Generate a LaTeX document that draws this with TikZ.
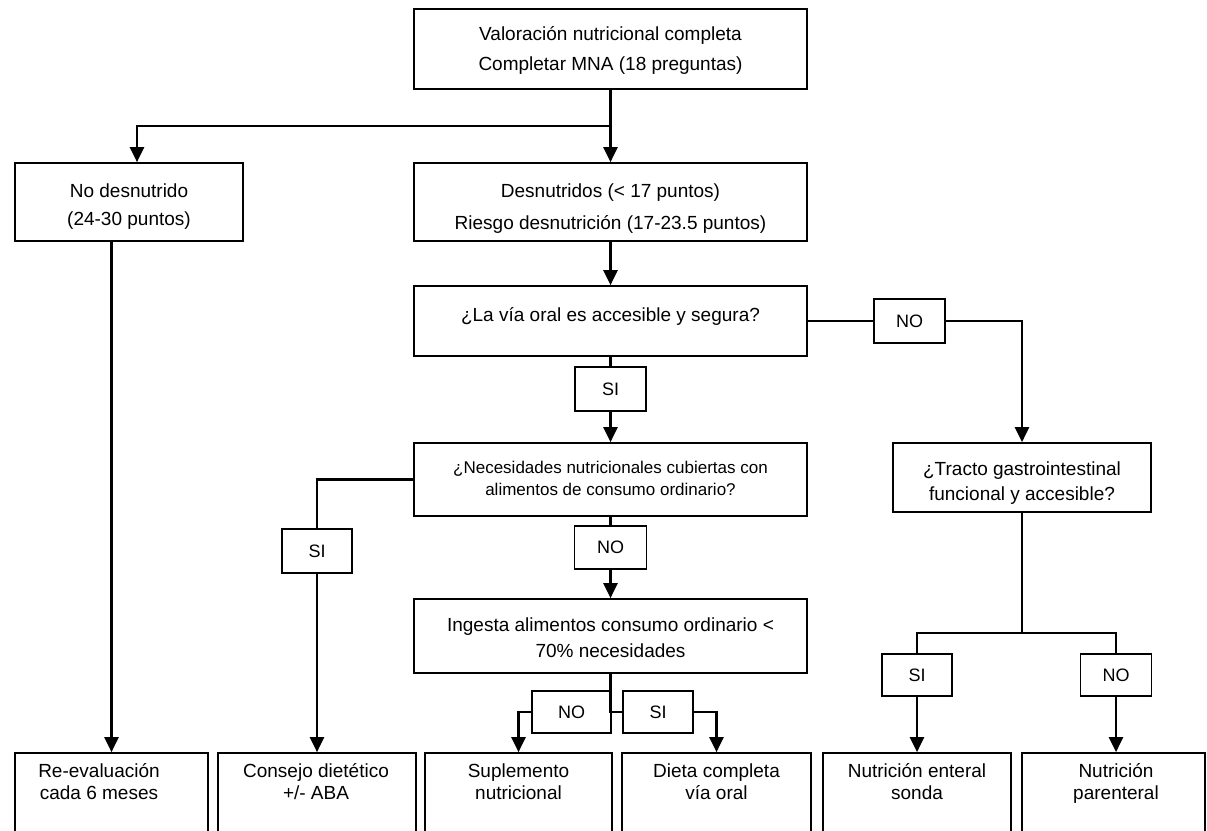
\documentclass[tikz,border=0pt]{standalone}
\usepackage{fontspec}
\setmainfont{Liberation Sans}
\usetikzlibrary{arrows.meta,calc}
\begin{document}
\begin{tikzpicture}[x=1pt,y=-1pt,
  box/.style 2 args={draw=black, line width=1.7pt, inner sep=0pt, fill=white,
    minimum width=#1, minimum height=#2},
  lbl/.style 2 args={draw=black, line width=1.7pt, inner sep=0pt, fill=white,
    minimum width=#1, minimum height=#2, font=\fontsize{18}{20}\selectfont},
  txt/.style={align=center, anchor=base, inner sep=0pt,
    font=\fontsize{19}{#1}\selectfont},
  txt/.default=22,
  smalltxt/.style={align=center, anchor=base, inner sep=0pt,
    font=\fontsize{17}{#1}\selectfont},
  smalltxt/.default=22,
  link/.style={line width=2.4pt},
  arr/.style={link, -{Triangle[width=14pt,length=15pt]}},
]
\useasboundingbox (0,0) rectangle (1207,830);
\clip (0,0) rectangle (1207,830);

% main boxes (text nodes are placed on the baseline of their last line)
\node[box={393pt}{80pt}] (val) at (610.5,49) {};
\node[txt=29.3] (val-t) at (610.5,70) {Valoración nutricional completa\\Completar MNA (18 preguntas)};

\node[box={228pt}{78pt}] (nodesn) at (129,202) {};
\node[txt=28] (nodesn-t) at (129,225) {No desnutrido\\(24-30 puntos)};

\node[box={393pt}{78pt}] (desn) at (610.5,202) {};
\node[txt=32] (desn-t) at (610.5,229) {Desnutridos (< 17 puntos)\\Riesgo desnutrición (17-23.5 puntos)};

\node[box={393pt}{70pt}] (oral) at (610.5,321) {};
\node[txt] (oral-t) at (610.5,321) {¿La vía oral es accesible y segura?};

\node[box={393pt}{73pt}] (nec) at (610.5,479.5) {};
\node[smalltxt=22] (nec-t) at (610.5,495) {¿Necesidades nutricionales cubiertas con\\alimentos de consumo ordinario?};

\node[box={393pt}{74pt}] (ingesta) at (610.5,636) {};
\node[txt=26] (ingesta-t) at (610.5,657.3) {Ingesta alimentos consumo ordinario <\\70\% necesidades};

\node[box={258pt}{69pt}] (tracto) at (1022,477.5) {};
\node[txt=25.5] (tracto-t) at (1022,500.7) {¿Tracto gastrointestinal\\funcional y accesible?};

% final boxes along the bottom
\node[box={193pt}{92pt}] (reeval) at (111.5,799) {};
\node[txt=22] (reeval-t) at (99,799) {Re-evaluación\\cada 6 meses};
\node[box={198pt}{92pt}] (consejo) at (317,799) {};
\node[txt=22] (consejo-t) at (316,799) {Consejo dietético\\+/- ABA};
\node[box={187pt}{92pt}] (supl) at (518.5,799) {};
\node[txt=22] (supl-t) at (518.5,799) {Suplemento\\nutricional};
\node[box={189pt}{92pt}] (dieta) at (716.5,799) {};
\node[txt=22] (dieta-t) at (716.5,799) {Dieta completa\\vía oral};
\node[box={188pt}{92pt}] (enteral) at (917,799) {};
\node[txt=22] (enteral-t) at (917,799) {Nutrición enteral\\sonda};
\node[box={183pt}{92pt}] (parent) at (1113.5,799) {};
\node[txt=22] (parent-t) at (1116,799) {Nutrición\\parenteral};

% answer labels
\node[lbl={71pt}{44pt}] (si1) at (610.5,389) {SI};
\node[lbl={71pt}{44pt}] (no1) at (909.5,321) {NO};
\node[lbl={70pt}{44pt}] (si2) at (317,551) {SI};
\node[lbl={72pt}{43pt}] (no2) at (610.5,547.5) {NO};
\node[lbl={79pt}{42pt}] (no3) at (571.5,712) {NO};
\node[lbl={70pt}{42pt}] (si3) at (658,712) {SI};
\node[lbl={70pt}{42pt}] (si4) at (917,675) {SI};
\node[lbl={71pt}{42pt}] (no4) at (1116,675) {NO};

% connectors
\coordinate (split1) at (610.5,126);
\coordinate (turn1) at (137,126);
\coordinate (split2) at (610.5,712);
\coordinate (split3) at (1022,633);

\draw[arr] (val.south) -- (desn.north);
\draw[arr] (split1) -- (turn1) -- (turn1 |- nodesn.north);
\draw[arr] (reeval.north |- nodesn.south) -- (reeval.north);
\draw[arr] (desn.south) -- (oral.north);
\draw[link] (oral.south) -- (si1.north);
\draw[arr] (si1.south) -- (nec.north);
\draw[link] (oral.east) -- (no1.west);
\draw[arr] (no1.east) -| (tracto.north);
\draw[link] (nec.west) -| (si2.north);
\draw[arr] (si2.south) -- (consejo.north);
\draw[link] (nec.south) -- (no2.north);
\draw[arr] (no2.south) -- (ingesta.north);
\draw[link] (ingesta.south) -- (split2) -- (si3.west);
\draw[link] (split2) -- (no3.east);
\draw[arr] (no3.west) -| (supl.north);
\draw[arr] (si3.east) -| (dieta.north);
\draw[link] (tracto.south) -- (split3);
\draw[link] (split3) -| (si4.north);
\draw[link] (split3) -| (no4.north);
\draw[arr] (si4.south) -- (enteral.north);
\draw[arr] (no4.south) -- (no4.south |- parent.north);
\end{tikzpicture}
\end{document}
